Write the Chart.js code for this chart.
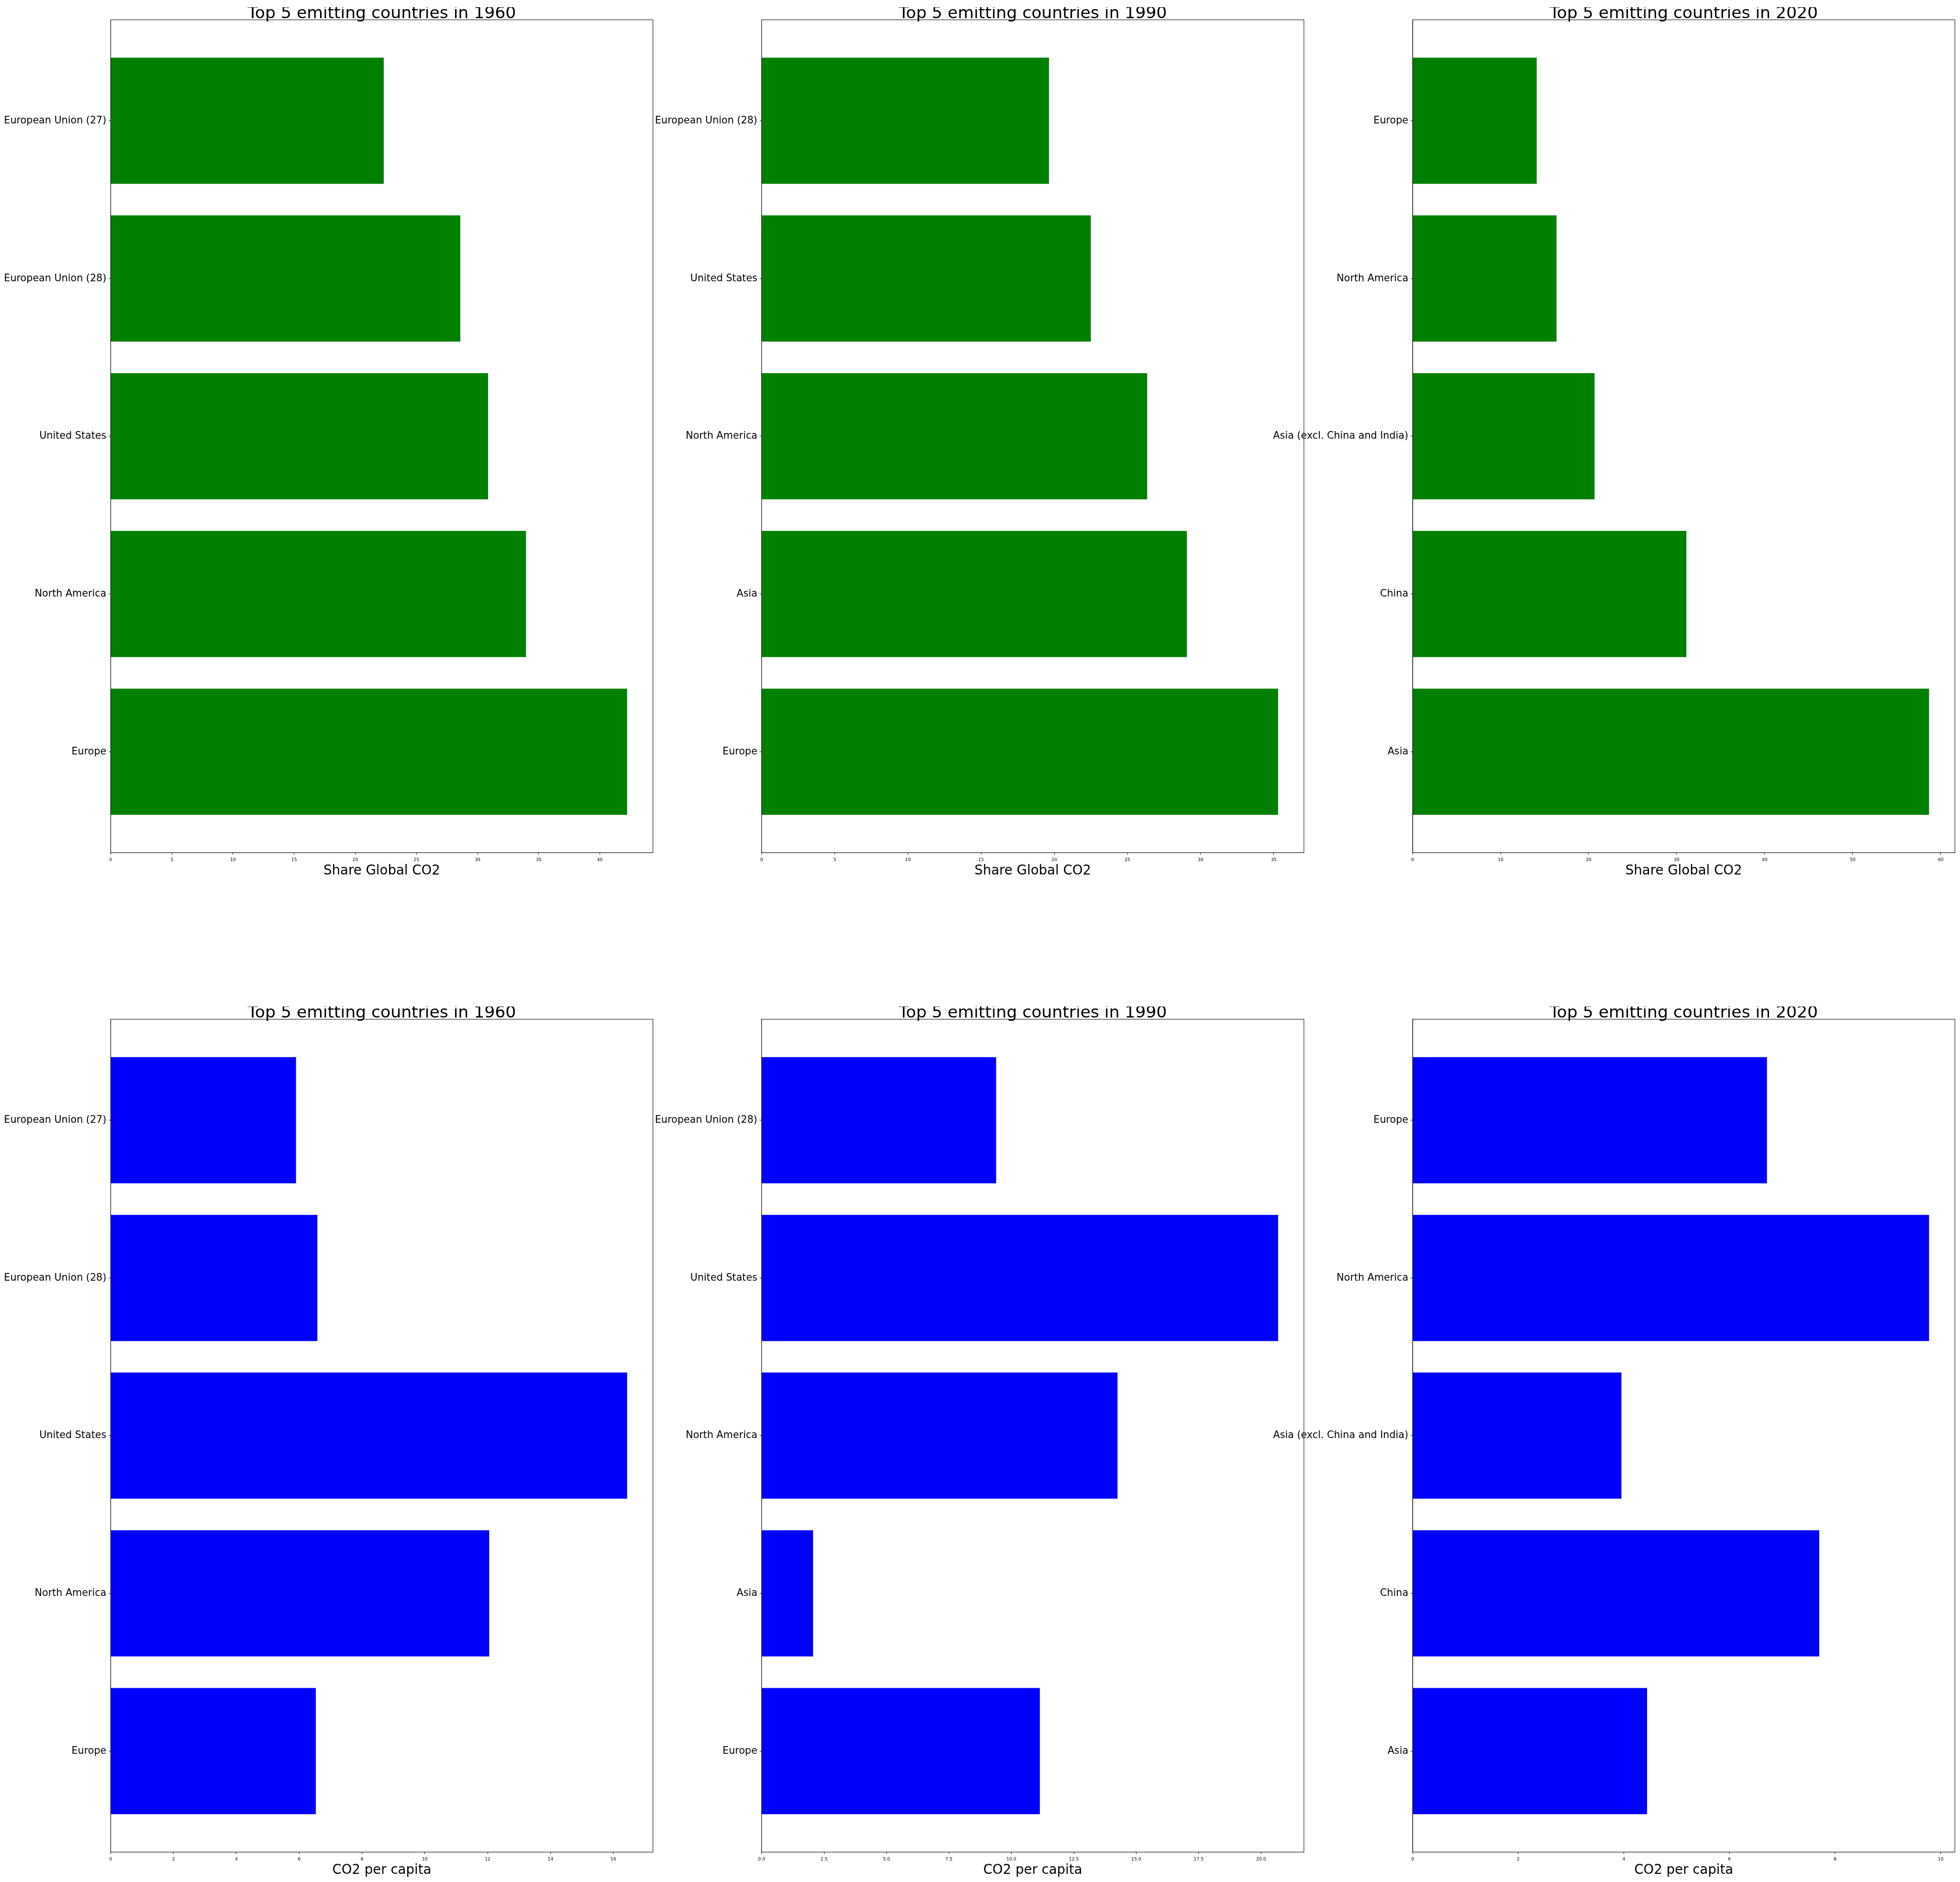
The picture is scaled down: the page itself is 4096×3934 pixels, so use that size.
<!DOCTYPE html>
<html><head><meta charset="utf-8">
<script src="https://cdn.jsdelivr.net/npm/chart.js@4.4.1/dist/chart.umd.min.js"></script>
<style>
html,body{margin:0;padding:0;background:#fff;}
body{width:4096px;height:3934px;position:relative;overflow:hidden;}
canvas{position:absolute;}
</style></head><body>
<script>
// ---- data (index 0 = bottom bar) ----
const years = ['1960', '1990', '2020'];
const categories1960 = ['Europe', 'North America', 'United States', 'European Union (28)', 'European Union (27)'];
const categories1990 = ['Europe', 'Asia', 'North America', 'United States', 'European Union (28)'];
const categories2020 = ['Asia', 'China', 'Asia (excl. China and India)', 'North America', 'Europe'];
const shareGlobal1960 = [42.23, 33.96, 30.86, 28.59, 22.33];
const shareGlobal1990 = [35.30, 29.07, 26.35, 22.50, 19.64];
const shareGlobal2020 = [58.67, 31.10, 20.67, 16.35, 14.10];
const perCapita1960 = [6.53, 12.05, 16.44, 6.58, 5.90];
const perCapita1990 = [11.14, 2.06, 14.25, 20.68, 9.39];
const perCapita2020 = [4.44, 7.70, 3.955, 9.78, 6.71];
const ticksShare1960 = ['0', '5', '10', '15', '20', '25', '30', '35', '40'];
const ticksShare1990 = ['0', '5', '10', '15', '20', '25', '30', '35'];
const ticksShare2020 = ['0', '10', '20', '30', '40', '50', '60'];
const ticksPerCapita1960 = ['0', '2', '4', '6', '8', '10', '12', '14', '16'];
const ticksPerCapita1990 = ['0.0', '2.5', '5.0', '7.5', '10.0', '12.5', '15.0', '17.5', '20.0'];
const ticksPerCapita2020 = ['0', '2', '4', '6', '8', '10'];
const xTitleShare = 'Share Global CO2';
const xTitlePerCapita = 'CO2 per capita';

// ---- layout ----
const FONT = '"DejaVu Sans", sans-serif';
const S = 0.829;
const colLefts = [279, 1920, 3561].map(v => v * S);
const rowTops = [50, 2570].map(v => v * S);
const axesW = 1367 * S;
const axesH = 2100 * S;
const TITLE_SIZE = 34.6;
const TITLE_LH = 0.7;
const XB = 55.1;

const framePlugin = {
  id: 'frame',
  afterDatasetsDraw(chart) {
    const {ctx, chartArea: a} = chart;
    ctx.save();
    ctx.strokeStyle = '#000';
    ctx.lineWidth = 1;
    ctx.strokeRect(a.left, a.top, a.right - a.left, a.bottom - a.top);
    ctx.restore();
  }
};

function makePanel(row, col, cats, vals, tickLabels, color, xTitle, year) {
  const aL = colLefts[col], aT = rowTops[row];
  const LP = col === 0 ? aL : 300;
  const titleBox = TITLE_SIZE * TITLE_LH;
  const cLeft = Math.floor(aL - LP);
  const cTop = Math.floor(aT - titleBox - 2);
  const titlePadTop = (aT - cTop) - titleBox;
  const yW = aL - cLeft;
  const R = 12;
  const cW = Math.ceil(yW + axesW + R);
  const cH = Math.ceil((aT - cTop) + axesH + XB);
  const padRight = cW - yW - axesW;
  const padBottom = cH - (aT - cTop) - axesH - XB;

  const cv = document.createElement('canvas');
  cv.width = cW; cv.height = cH;
  cv.style.left = cLeft + 'px'; cv.style.top = cTop + 'px';
  cv.style.width = cW + 'px'; cv.style.height = cH + 'px';
  document.body.appendChild(cv);

  new Chart(cv, {
    type: 'bar',
    data: {
      datasets: [{
        data: vals.map((v, i) => ({x: v, y: i})),
        backgroundColor: color,
        borderWidth: 0,
        barPercentage: 0.8,
        categoryPercentage: 1.0
      }]
    },
    options: {
      indexAxis: 'y',
      responsive: false,
      animation: false,
      devicePixelRatio: 1,
      layout: {padding: {left: 0, top: 0, right: padRight, bottom: padBottom}},
      plugins: {
        legend: {display: false},
        tooltip: {enabled: false},
        title: {
          display: true, text: 'Top 5 emitting countries in ' + year,
          fullSize: false, color: '#000',
          font: {family: FONT, size: TITLE_SIZE, lineHeight: TITLE_LH, weight: 'normal'},
          padding: {top: titlePadTop, bottom: 0}
        }
      },
      scales: {
        x: {
          type: 'linear', position: 'bottom',
          min: 0, max: Math.max(...vals) * 1.05,
          offset: false,
          afterFit: s => { s.height = XB; },
          afterBuildTicks: s => { s.ticks = tickLabels.map(t => ({value: parseFloat(t)})); },
          ticks: {
            callback: (v, i) => tickLabels[i],
            color: '#000', font: {family: FONT, size: 9.2},
            padding: 5.5, maxRotation: 0, autoSkip: false
          },
          grid: {drawOnChartArea: false, drawTicks: true, tickLength: 4, color: '#000', lineWidth: 1, offset: false},
          border: {display: true, color: '#000', width: 1},
          title: {
            display: true, text: xTitle, color: '#000',
            font: {family: FONT, size: 27.6, lineHeight: 1.2},
            padding: {top: 0, bottom: 0}
          }
        },
        y: {
          type: 'linear', position: 'left',
          min: -0.64, max: 4.64,
          offset: false,
          afterFit: s => { s.width = yW; },
          afterBuildTicks: s => { s.ticks = cats.map((c, i) => ({value: i})); },
          ticks: {
            callback: (v) => cats[Math.round(v)],
            color: '#000', font: {family: FONT, size: 20.7},
            padding: 5, autoSkip: false
          },
          grid: {drawOnChartArea: false, drawTicks: true, tickLength: 4, color: '#000', lineWidth: 1, offset: false},
          border: {display: true, color: '#000', width: 1}
        }
      }
    },
    plugins: [framePlugin]
  });
}

makePanel(0, 0, categories1960, shareGlobal1960, ticksShare1960, '#008000', xTitleShare, years[0]);
makePanel(0, 1, categories1990, shareGlobal1990, ticksShare1990, '#008000', xTitleShare, years[1]);
makePanel(0, 2, categories2020, shareGlobal2020, ticksShare2020, '#008000', xTitleShare, years[2]);
makePanel(1, 0, categories1960, perCapita1960, ticksPerCapita1960, '#0000ff', xTitlePerCapita, years[0]);
makePanel(1, 1, categories1990, perCapita1990, ticksPerCapita1990, '#0000ff', xTitlePerCapita, years[1]);
makePanel(1, 2, categories2020, perCapita2020, ticksPerCapita2020, '#0000ff', xTitlePerCapita, years[2]);
</script>
</body></html>
